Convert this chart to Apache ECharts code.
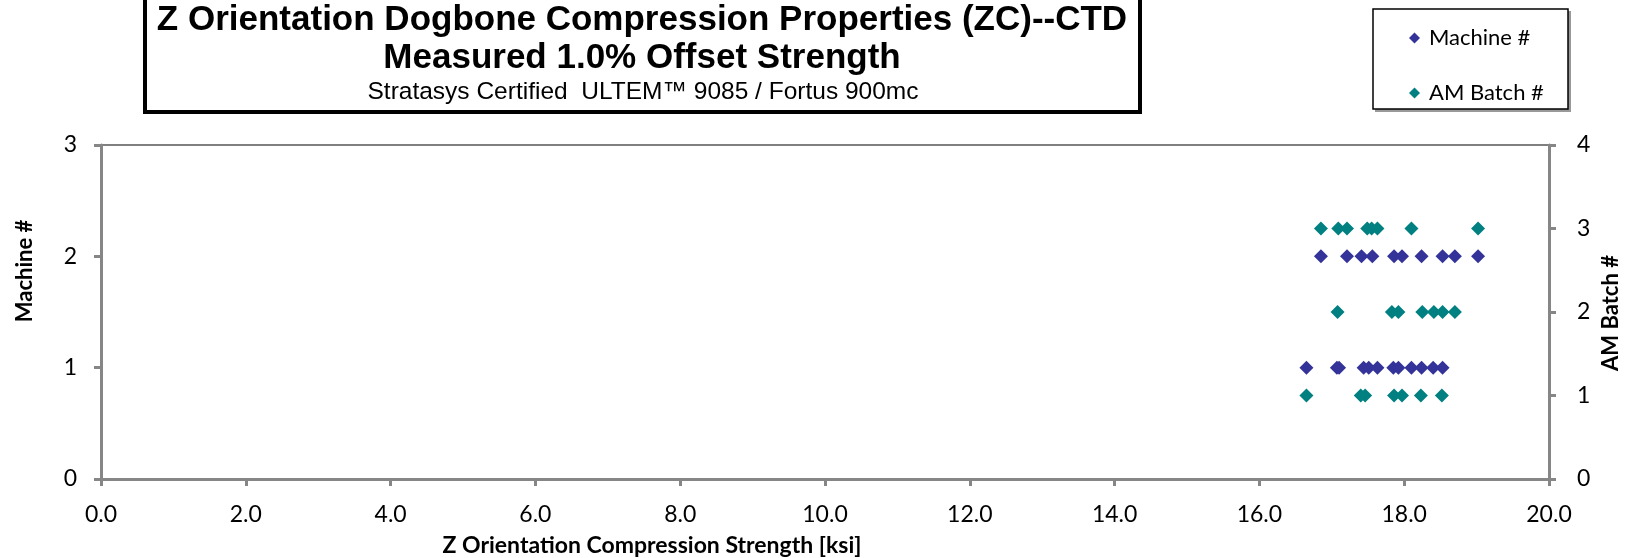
<!DOCTYPE html>
<html>
<head>
<meta charset="utf-8">
<script src="https://cdn.jsdelivr.net/npm/echarts@6/dist/echarts.min.js"></script>
<style>
html,body{margin:0;padding:0;background:#fff;}
#main{width:1630px;height:558px;}
</style>
</head>
<body>
<div id="main"></div>
<script>
// strength values [ksi], one array per row
var machine1 = [16.65, 17.07, 17.10, 17.44, 17.51, 17.63, 17.85, 17.92, 18.10, 18.24, 18.40, 18.53];
var machine2 = [16.85, 17.21, 17.41, 17.56, 17.86, 17.97, 18.24, 18.53, 18.70, 19.02];
var batch1 = [16.65, 17.40, 17.46, 17.86, 17.97, 18.23, 18.52];
var batch2 = [17.08, 17.83, 17.92, 18.25, 18.41, 18.53, 18.70];
var batch3 = [16.85, 17.09, 17.21, 17.49, 17.55, 17.63, 18.10, 19.02];

// plotted y levels (machine on left axis, batch on right axis)
var machineY = [1, 2];
var batchY = [1, 2, 3];

function pts(arr, y){
    var out = [];
    for (var i = 0; i < arr.length; i++) {
        out.push([arr[i], y]);
    }
    return out;
}

var machineData = pts(machine1, machineY[0]).concat(pts(machine2, machineY[1]));
var batchData = pts(batch1, batchY[0]).concat(pts(batch2, batchY[1])).concat(pts(batch3, batchY[2]));

var gray = '#868686';
var font = 'Lato, "Open Sans", sans-serif';
var titleFont = '"Liberation Sans", Arial, sans-serif';

var option = {
    animation: false,
    backgroundColor: '#fff',
    grid: {
        left: 101,
        right: 81,
        top: 145,
        bottom: 79,
        show: true,
        borderColor: '#000',
        borderWidth: 1
    },
    legend: {
        orient: 'vertical',
        left: 1404,
        top: 22,
        itemGap: 33,
        itemWidth: 11,
        itemHeight: 11,
        textStyle: {fontFamily: font, fontSize: 22, color: '#000', padding: [0, 0, 0, 4]},
        data: [{name: 'Machine #', icon: 'diamond'}, {name: 'AM Batch #', icon: 'diamond'}]
    },
    xAxis: {
        type: 'value',
        min: 0,
        max: 20,
        interval: 2,
        axisLine: {show: true, lineStyle: {color: gray, width: 3}},
        axisTick: {show: true, length: 7, lineStyle: {color: gray, width: 3}},
        splitLine: {show: false},
        axisLabel: {
            margin: 24,
            fontFamily: font,
            fontSize: 23,
            color: '#000',
            formatter: function(v){ return v.toFixed(1); }
        }
    },
    yAxis: [
        {
            type: 'value',
            min: 0,
            max: 3,
            interval: 1,
            position: 'left',
            axisLine: {show: true, lineStyle: {color: gray, width: 3}},
            axisTick: {show: true, length: 7, lineStyle: {color: gray, width: 3}},
            splitLine: {show: false},
            axisLabel: {margin: 24, fontFamily: font, fontSize: 23, color: '#000'}
        },
        {
            type: 'value',
            min: 0,
            max: 4,
            interval: 1,
            position: 'right',
            axisLine: {show: true, lineStyle: {color: gray, width: 3}},
            axisTick: {show: true, length: 7, lineStyle: {color: gray, width: 3}},
            splitLine: {show: false},
            axisLabel: {margin: 28, fontFamily: font, fontSize: 23, color: '#000'}
        }
    ],
    series: [
        {
            name: 'Machine #',
            type: 'scatter',
            yAxisIndex: 0,
            symbol: 'diamond',
            symbolSize: 14,
            itemStyle: {color: '#333399', opacity: 1},
            data: machineData
        },
        {
            name: 'AM Batch #',
            type: 'scatter',
            yAxisIndex: 1,
            symbol: 'diamond',
            symbolSize: 14,
            itemStyle: {color: '#008080', opacity: 1},
            data: batchData
        }
    ],
    graphic: [
        // title box
        {type: 'rect', shape: {x: 145, y: -10, width: 995, height: 122}, style: {fill: '#fff', stroke: '#000', lineWidth: 4}, z: 2},
        {type: 'text', x: 642, y: 20, style: {text: 'Z Orientation Dogbone Compression Properties (ZC)--CTD', font: 'bold 35px ' + titleFont, fill: '#000', align: 'center', verticalAlign: 'middle'}, z: 3},
        {type: 'text', x: 642, y: 58, style: {text: 'Measured 1.0% Offset Strength', font: 'bold 35px ' + titleFont, fill: '#000', align: 'center', verticalAlign: 'middle'}, z: 3},
        {type: 'text', x: 643, y: 92, style: {text: 'Stratasys Certified  ULTEM\u2122 9085 / Fortus 900mc', font: '24.5px ' + titleFont, fill: '#000', align: 'center', verticalAlign: 'middle'}, z: 3},
        // legend box
        {type: 'rect', shape: {x: 1375, y: 11, width: 196, height: 101}, style: {fill: '#999'}, z: 1},
        {type: 'rect', shape: {x: 1373, y: 9, width: 195, height: 100}, style: {fill: '#fff', stroke: '#000', lineWidth: 1.5}, z: 2},
        // axis titles
        {type: 'text', x: 652, y: 546, style: {text: 'Z Orientation Compression Strength [ksi]', font: 'bold 23px ' + font, fill: '#000', align: 'center', verticalAlign: 'middle'}, z: 3},
        {type: 'text', x: 25, y: 271, rotation: Math.PI / 2, style: {text: 'Machine #', font: 'bold 22px ' + font, fill: '#000', align: 'center', verticalAlign: 'middle'}, z: 3},
        {type: 'text', x: 1611, y: 313, rotation: Math.PI / 2, style: {text: 'AM Batch #', font: 'bold 22px ' + font, fill: '#000', align: 'center', verticalAlign: 'middle'}, z: 3}
    ]
};

var myChart = echarts.init(document.getElementById('main'));
myChart.setOption(option);
</script>
</body>
</html>
